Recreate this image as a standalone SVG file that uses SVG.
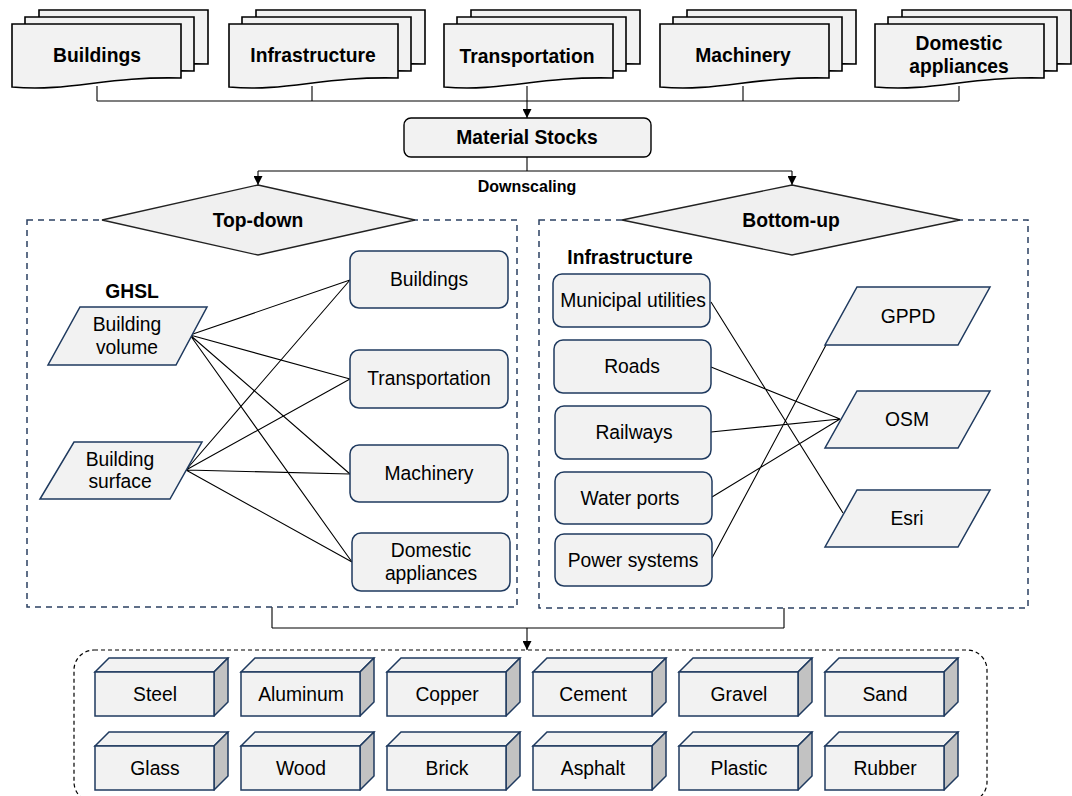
<svg xmlns="http://www.w3.org/2000/svg" xmlns:xlink="http://www.w3.org/1999/xlink" width="1072" height="796" viewBox="0 0 1072 796">
<defs>
<style>
text{font-family:"Liberation Sans",Arial,sans-serif;fill:#000;text-anchor:middle;dominant-baseline:central;}
.b{font-weight:bold;}
.t19{font-size:19.3px;}
.t15{font-size:16px;}
.doc{fill:#f2f2f2;stroke:#000;stroke-width:1.6;}
.box{fill:#f2f2f2;stroke:#1f3a5f;stroke-width:1.5;}
.dia{fill:#f0f0f0;stroke:#222;stroke-width:1.3;}
.side{fill:#c2c2c2;stroke:#1f3a5f;stroke-width:1.5;stroke-linejoin:round;}
.panel{fill:none;stroke:#2b4061;stroke-width:1.5;stroke-dasharray:6 5;}
.conn{fill:none;stroke:#000;stroke-width:1.1;}
</style>
<path id="doc" d="M0,0 H169 V54 C93,52 59,68 0,63 Z"/>
<marker id="arr" viewBox="0 0 10 10" refX="10" refY="5" markerWidth="9" markerHeight="9" markerUnits="userSpaceOnUse" orient="auto">
<path d="M0,0 L10,5 L0,10 Z" fill="#000"/>
</marker>
<g id="cube">
<polygon class="box" points="0,14 14,0 133,0 119,14"/>
<polygon class="side" points="119,14 133,0 133,44 119,58"/>
<rect class="box" x="0" y="14" width="119" height="44"/>
</g>
</defs>
<rect width="1072" height="796" fill="#fff"/>

<!-- connectors -->
<g id="connectors">
<path class="conn" d="M97,86 V101 M312,86 V101 M743,86 V101 M959,86 V101 M97,101 H959"/>
<path class="conn" d="M527,86 V118" marker-end="url(#arr)"/>
<path class="conn" d="M527,157 V171 M258,171 H792"/>
<path class="conn" d="M258,171 V185" marker-end="url(#arr)"/>
<path class="conn" d="M792,171 V185" marker-end="url(#arr)"/>
<path class="conn" d="M190,335 L350,280 M190,335 L350,379 M190,335 L350,474 M190,335 L352,562"/>
<path class="conn" d="M186,470 L350,280 M186,470 L350,379 M186,470 L350,474 M186,470 L352,562"/>
<path class="conn" d="M711,302 L843,513 M711,367 L840,419 M711,432 L840,419 M712,497 L840,419 M712,558 L826,345"/>
<path class="conn" d="M272,607 V628 M784,608 V628 M272,628 H784"/>
<path class="conn" d="M527,628 V650" marker-end="url(#arr)"/>
</g>

<!-- top documents -->
<g id="doc-buildings" transform="translate(12,24)">
<use href="#doc" class="doc" x="27" y="-14"/><use href="#doc" class="doc" x="13" y="-7"/><use href="#doc" class="doc"/>
<text class="b t19" x="85" y="31">Buildings</text>
</g>
<g id="doc-infrastructure" transform="translate(229,24)">
<use href="#doc" class="doc" x="27" y="-14"/><use href="#doc" class="doc" x="13" y="-7"/><use href="#doc" class="doc"/>
<text class="b t19" x="84" y="31">Infrastructure</text>
</g>
<g id="doc-transportation" transform="translate(444,24)">
<use href="#doc" class="doc" x="27" y="-14"/><use href="#doc" class="doc" x="13" y="-7"/><use href="#doc" class="doc"/>
<text class="b t19" x="83" y="32">Transportation</text>
</g>
<g id="doc-machinery" transform="translate(660,24)">
<use href="#doc" class="doc" x="27" y="-14"/><use href="#doc" class="doc" x="13" y="-7"/><use href="#doc" class="doc"/>
<text class="b t19" x="83" y="31">Machinery</text>
</g>
<g id="doc-domestic" transform="translate(875,24)">
<use href="#doc" class="doc" x="27" y="-14"/><use href="#doc" class="doc" x="13" y="-7"/><use href="#doc" class="doc"/>
<text class="b t19" x="84" y="19">Domestic</text>
<text class="b t19" x="84" y="42">appliances</text>
</g>

<g id="material-stocks">
<rect x="404" y="118" width="247" height="39" rx="7" fill="#f2f2f2" stroke="#000" stroke-width="1.4"/>
<text class="b t19" x="527" y="137">Material Stocks</text>
</g>
<g id="downscaling-label"><text class="b t15" x="527" y="186">Downscaling</text></g>

<!-- panels -->
<g id="panel-topdown"><rect class="panel" x="27" y="220" width="490" height="387"/></g>
<g id="panel-bottomup"><rect class="panel" x="539" y="220" width="489" height="388"/></g>

<g id="top-down">
<polygon class="dia" points="258,185 415,220 258,255 102,220"/>
<text class="b t19" x="258" y="220">Top-down</text>
</g>
<g id="bottom-up">
<polygon class="dia" points="792,185 960,220 792,255 622,220"/>
<text class="b t19" x="791" y="220">Bottom-up</text>
</g>

<!-- top-down contents -->
<g id="ghsl-label"><text class="b t19" x="132" y="291">GHSL</text></g>
<g id="building-volume">
<polygon class="box" points="80,307 207,307 176,365 48,365"/>
<text class="t19" x="127" y="324">Building</text>
<text class="t19" x="127" y="347">volume</text>
</g>
<g id="building-surface">
<polygon class="box" points="74,442 202,442 170,499 40,499"/>
<text class="t19" x="120" y="459">Building</text>
<text class="t19" x="120" y="481">surface</text>
</g>
<g id="td-buildings">
<rect class="box" x="350" y="251" width="158" height="57" rx="9"/>
<text class="t19" x="429" y="279">Buildings</text>
</g>
<g id="td-transportation">
<rect class="box" x="350" y="350" width="158" height="58" rx="9"/>
<text class="t19" x="429" y="378">Transportation</text>
</g>
<g id="td-machinery">
<rect class="box" x="350" y="445" width="158" height="57" rx="9"/>
<text class="t19" x="429" y="473">Machinery</text>
</g>
<g id="td-domestic">
<rect class="box" x="352" y="533" width="158" height="58" rx="9"/>
<text class="t19" x="431" y="550">Domestic</text>
<text class="t19" x="431" y="573">appliances</text>
</g>

<!-- bottom-up contents -->
<g id="infra-label"><text class="b t19" x="630" y="257">Infrastructure</text></g>
<g id="municipal">
<rect class="box" x="553" y="274" width="157" height="53" rx="9"/>
<text class="t19" x="633" y="300">Municipal utilities</text>
</g>
<g id="roads">
<rect class="box" x="554" y="340" width="157" height="53" rx="9"/>
<text class="t19" x="632" y="366">Roads</text>
</g>
<g id="railways">
<rect class="box" x="555" y="406" width="156" height="53" rx="9"/>
<text class="t19" x="634" y="432">Railways</text>
</g>
<g id="water-ports">
<rect class="box" x="555" y="472" width="157" height="52" rx="9"/>
<text class="t19" x="630" y="498">Water ports</text>
</g>
<g id="power-systems">
<rect class="box" x="555" y="534" width="157" height="52" rx="9"/>
<text class="t19" x="633" y="560">Power systems</text>
</g>
<g id="gppd">
<polygon class="box" points="857,287 990,287 958,345 825,345"/>
<text class="t19" x="908" y="316">GPPD</text>
</g>
<g id="osm">
<polygon class="box" points="857,391 990,391 958,448 825,448"/>
<text class="t19" x="907" y="419">OSM</text>
</g>
<g id="esri">
<polygon class="box" points="857,490 990,490 958,547 825,547"/>
<text class="t19" x="907" y="518">Esri</text>
</g>

<!-- materials -->
<g id="materials-container"><rect x="74" y="650" width="913" height="152" rx="20" fill="none" stroke="#000" stroke-width="1.2" stroke-dasharray="4 3"/></g>
<g id="m-steel"><use href="#cube" x="95" y="658"/><text class="t19" x="155" y="694">Steel</text></g>
<g id="m-aluminum"><use href="#cube" x="241" y="658"/><text class="t19" x="301" y="694">Aluminum</text></g>
<g id="m-copper"><use href="#cube" x="387" y="658"/><text class="t19" x="447" y="694">Copper</text></g>
<g id="m-cement"><use href="#cube" x="533" y="658"/><text class="t19" x="593" y="694">Cement</text></g>
<g id="m-gravel"><use href="#cube" x="679" y="658"/><text class="t19" x="739" y="694">Gravel</text></g>
<g id="m-sand"><use href="#cube" x="825" y="658"/><text class="t19" x="885" y="694">Sand</text></g>
<g id="m-glass"><use href="#cube" x="95" y="732"/><text class="t19" x="155" y="768">Glass</text></g>
<g id="m-wood"><use href="#cube" x="241" y="732"/><text class="t19" x="301" y="768">Wood</text></g>
<g id="m-brick"><use href="#cube" x="387" y="732"/><text class="t19" x="447" y="768">Brick</text></g>
<g id="m-asphalt"><use href="#cube" x="533" y="732"/><text class="t19" x="593" y="768">Asphalt</text></g>
<g id="m-plastic"><use href="#cube" x="679" y="732"/><text class="t19" x="739" y="768">Plastic</text></g>
<g id="m-rubber"><use href="#cube" x="825" y="732"/><text class="t19" x="885" y="768">Rubber</text></g>
</svg>
